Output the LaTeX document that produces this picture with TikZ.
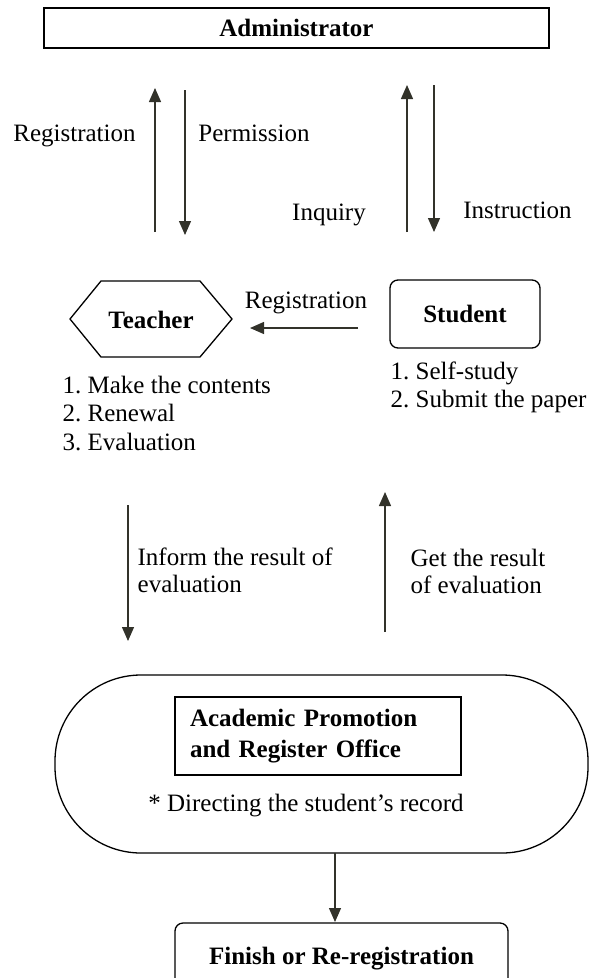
\documentclass[tikz,border=0pt]{standalone}
\usepackage{fontspec}
\setmainfont{Liberation Serif}
\usetikzlibrary{arrows.meta}
\definecolor{inkgray}{RGB}{50,50,42}
\frenchspacing
\begin{document}
\begin{tikzpicture}[x=1pt,y=-1pt,line width=1.3pt]
  \tikzstyle{every node}=[font=\fontsize{25}{28.5}\selectfont]
  \tikzstyle{box}=[draw,font=\fontsize{25}{31}\selectfont\bfseries]
  \tikzstyle{flow}=[draw=inkgray,-{Triangle[width=12pt,length=14pt]}]
  \tikzstyle{lbl}=[anchor=base,inner sep=0pt]
  \tikzstyle{notes}=[anchor=north west,align=left,inner sep=0pt]
  \useasboundingbox (0,0) rectangle (593,978);
  \clip (0,0) rectangle (593,978);
  \node[box,minimum width=505pt,minimum height=40pt] (administrator) at (296.5,28) {Administrator};
  \coordinate (tUp1) at (155,232);  \coordinate (tUp2) at (155,88);
  \coordinate (tDn1) at (185,90);   \coordinate (tDn2) at (185,235);
  \coordinate (sUp1) at (407,232);  \coordinate (sUp2) at (407,85);
  \coordinate (sDn1) at (434,85);   \coordinate (sDn2) at (434,232);
  \draw[flow] (tUp1) -- (tUp2);
  \draw[flow] (tDn1) -- (tDn2);
  \draw[flow] (sUp1) -- (sUp2);
  \draw[flow] (sDn1) -- (sDn2);
  \node[lbl] (registration) at (74.5,141) {Registration};
  \node[lbl] (permission) at (254,141) {Permission};
  \node[lbl] (inquiry) at (329,220) {Inquiry};
  \node[lbl] (instruction) at (517.5,218) {Instruction};
  \node[font=\fontsize{25}{28.5}\selectfont\bfseries] (teacher) at (151,320) {Teacher};
  \draw (70,319) -- (101,281) -- (200,281) -- (232,319) -- (200,357) -- (101,357) -- cycle;
  \node[box,rounded corners=8pt,minimum width=150pt,minimum height=68pt] (student) at (465,314) {Student};
  \coordinate (regOut) at (358,328); \coordinate (regIn) at (250,328);
  \draw[flow] (regOut) -- (regIn);
  \node[lbl] (registration2) at (306,308) {Registration};
  \node[notes] (teacherjobs) at (62,375) {1. Make the contents\\2. Renewal\\3. Evaluation};
  \node[notes] (studentjobs) at (390,361) {1. Self-study\\2. Submit the paper};
  \coordinate (inform1) at (128,505); \coordinate (inform2) at (128,641);
  \coordinate (get1) at (385,632);    \coordinate (get2) at (385,492);
  \draw[flow] (inform1) -- (inform2);
  \draw[flow] (get1) -- (get2);
  \node[notes,font=\fontsize{25}{27.5}\selectfont] (informlbl) at (137,547) {Inform the result of\\evaluation};
  \node[notes,font=\fontsize{25}{27.5}\selectfont] (getlbl) at (410,548) {Get the result\\of evaluation};
  \node[draw,rounded corners=86pt,minimum width=533pt,minimum height=178pt] (record) at (321.5,764) {};
  \node[box,text width=256pt,align=left,inner xsep=15pt,minimum height=78pt] (office) at (318,736) {Academic Promotion\\and Register Office};
  \node (directing) at (306,806) {* Directing the student's record};
  \coordinate (recordOut) at (335,853); \coordinate (finishIn) at (335,922);
  \draw[flow] (recordOut) -- (finishIn);
  \node[box,rounded corners=8pt,minimum width=333pt,minimum height=72pt] (finish) at (341.5,959) {Finish or Re-registration};
\end{tikzpicture}
\end{document}
